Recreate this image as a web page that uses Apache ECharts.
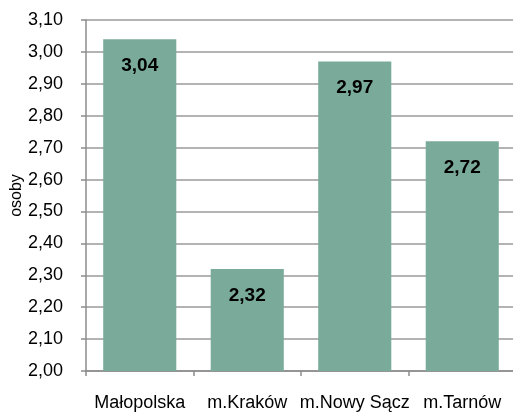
<!DOCTYPE html>
<html>
<head>
<meta charset="utf-8">
<script src="https://cdn.jsdelivr.net/npm/echarts@6/dist/echarts.min.js"></script>
<style>
  html, body { margin: 0; padding: 0; background: #fff; }
  #chart { width: 513px; height: 412px; }
</style>
</head>
<body>
<div id="chart"></div>
<script>
var categories = ['Małopolska', 'm.Kraków', 'm.Nowy Sącz', 'm.Tarnów'];
var values = [3.04, 2.32, 2.97, 2.72];

var chart = echarts.init(document.getElementById('chart'));

function fmt(v) {
    return v.toFixed(2).replace('.', ',');
}

chart.setOption({
    animation: false,
    grid: { left: 86, right: -3, top: 20, bottom: 41, containLabel: false, outerBoundsMode: 'none' },
    xAxis: {
        type: 'category',
        data: categories,
        axisLine: { lineStyle: { color: '#8c8c8c', width: 1.5 } },
        axisTick: { show: true, alignWithLabel: false, length: 5, lineStyle: { color: '#8c8c8c', width: 1.5 } },
        axisLabel: { color: '#000', fontFamily: 'Liberation Sans', fontSize: 18, margin: 23, interval: 0 }
    },
    yAxis: {
        type: 'value',
        min: 2.0,
        max: 3.1,
        interval: 0.1,
        name: 'osoby',
        nameLocation: 'middle',
        nameGap: 61,
        nameRotate: 90,
        nameMoveOverlap: false,
        nameTextStyle: { color: '#000', fontFamily: 'Liberation Sans', fontSize: 16 },
        axisLine: { show: true, lineStyle: { color: '#8c8c8c', width: 1.5 } },
        axisTick: { show: true, inside: false, length: 5, lineStyle: { color: '#8c8c8c', width: 1.5 } },
        splitLine: { show: true, lineStyle: { color: '#9a9a9a', width: 1.5 } },
        axisLabel: {
            color: '#000', fontFamily: 'Liberation Sans', fontSize: 18, margin: 23,
            formatter: function (v) { return fmt(v); }
        }
    },
    series: [{
        type: 'bar',
        data: values,
        barWidth: '68%',
        itemStyle: { color: '#7aab9a' },
        label: {
            show: true,
            position: 'insideTop',
            distance: 17,
            color: '#000',
            fontWeight: 'bold',
            fontFamily: 'Liberation Sans',
            fontSize: 19,
            formatter: function (p) { return fmt(p.value); }
        }
    }]
});
</script>
</body>
</html>
